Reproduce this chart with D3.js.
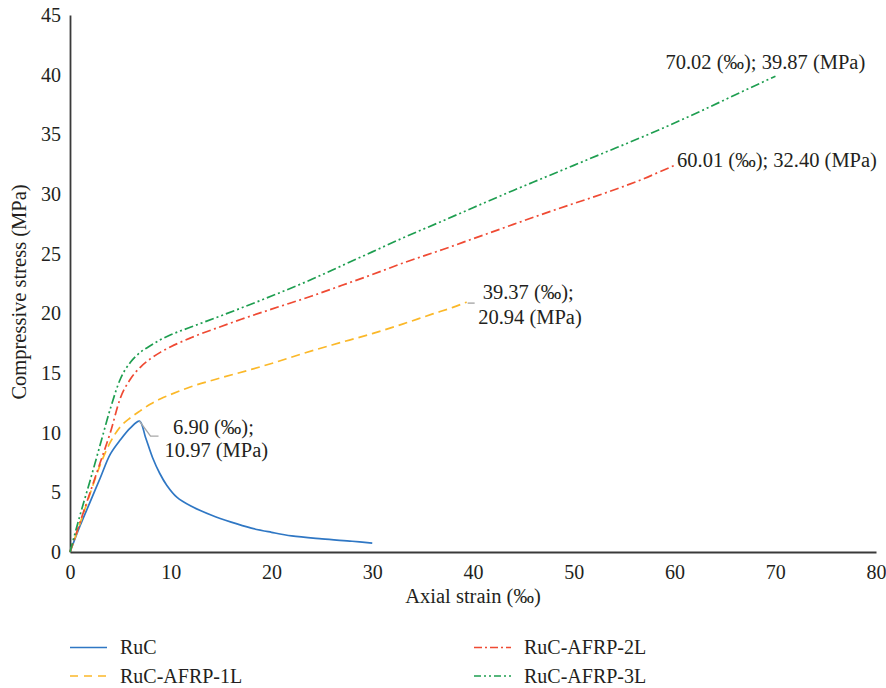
<!DOCTYPE html>
<html>
<head>
<meta charset="utf-8">
<script src="https://cdn.jsdelivr.net/npm/d3@7"></script>
<style>
  html, body { margin: 0; padding: 0; background: #fff; }
  svg { display: block; }
  text { font-family: "Liberation Serif", "DejaVu Serif", serif; fill: #231f20; }
</style>
</head>
<body>
<svg id="chart" width="886" height="688"></svg>
<script>
// ---- Data ----
const xTicks = [0, 10, 20, 30, 40, 50, 60, 70, 80];
const yTicks = [0, 5, 10, 15, 20, 25, 30, 35, 40, 45];

const seriesNames = ["RuC", "RuC-AFRP-1L", "RuC-AFRP-2L", "RuC-AFRP-3L"];

const ruc = [[0,0],[1,2.2],[2,4.2],[3,6.2],[4,8.2],[5,9.4],[6,10.4],[6.9,10.97],[7.5,9.6],[8.2,7.9],[8.9,6.6],[9.6,5.6],[10.6,4.6],[12,3.85],[14,3.1],[16,2.5],[18,2.0],[20,1.65],[22,1.35],[25,1.1],[28,0.9],[30,0.75]];
const afrp1L = [[0,0],[1,2.4],[2,4.9],[3,7.3],[4,9.2],[5,10.5],[6,11.25],[7,11.85],[8,12.4],[9,12.85],[10,13.2],[12,13.85],[15,14.6],[18,15.3],[20,15.8],[23,16.6],[26,17.35],[30,18.3],[33,19.1],[36,19.95],[38,20.5],[39.37,20.94]];
const afrp2L = [[0,0],[1,2.5],[2,5.0],[3,7.5],[4,10.0],[5,12.9],[6,14.5],[7,15.5],[8,16.2],[9,16.75],[10,17.2],[12,17.95],[15,18.9],[17,19.5],[20,20.35],[24,21.45],[27,22.35],[30,23.25],[33,24.2],[37,25.35],[40,26.25],[43,27.15],[46,28.05],[50,29.2],[53,30.05],[55,30.65],[57,31.3],[58.5,31.85],[60.01,32.40]];
const afrp3L = [[0,0],[1,3.1],[2,6.0],[3,9.0],[4,12.0],[5,14.5],[6,15.9],[7,16.75],[8,17.3],[9,17.8],[10,18.2],[12,18.85],[15,19.8],[17,20.45],[20,21.45],[24,22.85],[27,24.0],[30,25.15],[33,26.3],[37,27.75],[40,28.85],[44,30.3],[47,31.35],[50,32.4],[53,33.45],[57,34.85],[60,35.95],[63,37.1],[66,38.3],[70.02,39.87]];

const annotations = [
  { lines: ["6.90 (‰);", "10.97 (MPa)"] },
  { lines: ["39.37 (‰);", "20.94 (MPa)"] },
  { lines: ["60.01 (‰); 32.40 (MPa)"] },
  { lines: ["70.02 (‰); 39.87 (MPa)"] }
];

// ---- Setup ----
const svg = d3.select("#chart");
const x = d3.scaleLinear().domain([0, 80]).range([70, 876]);
const y = d3.scaleLinear().domain([0, 45]).range([552, 15]);
const FS = "20.5px";

const styles = [
  { color: "#2f77c4", dash: null, leg: null },
  { color: "#fbb829", dash: "9,5", leg: "8,6" },
  { color: "#ef4a33", dash: "9,3.5,2,3.5", leg: "8,3,2,3" },
  { color: "#1e9e50", dash: "9,3,2,3,2,3", leg: "7,3,2,3,2,3" }
];
const datasets = [ruc, afrp1L, afrp2L, afrp3L];

// Axes
const yAxis = d3.axisLeft(y).tickValues(yTicks).tickSize(0).tickPadding(9);
const xAxis = d3.axisBottom(x).tickValues(xTicks).tickSize(0).tickPadding(13);

const gy = svg.append("g").attr("transform", `translate(70,0)`).call(yAxis);
const gx = svg.append("g").attr("transform", `translate(0,552)`).call(xAxis);
[gx, gy].forEach(g => {
  g.select(".domain").attr("stroke", "#3a3a3a").attr("stroke-width", 1.8);
  g.selectAll("text").style("font-family", '"Liberation Serif", serif').style("font-size", "20px").attr("fill", "#231f20");
});

// Axis titles
svg.append("text").attr("x", 473).attr("y", 603).attr("text-anchor", "middle")
  .style("font-size", FS).text("Axial strain (‰)");
svg.append("text").attr("transform", "translate(26,292) rotate(-90)").attr("text-anchor", "middle")
  .style("font-size", FS).text("Compressive stress (MPa)");

// Lines
const line = d3.line().x(d => x(d[0])).y(d => y(d[1])).curve(d3.curveMonotoneX);
const lineRuc = d3.line().x(d => x(d[0])).y(d => y(d[1])).curve(d3.curveCatmullRom.alpha(0.5));
datasets.forEach((ds, i) => {
  svg.append("path").datum(ds)
    .attr("d", i === 0 ? lineRuc : line)
    .attr("fill", "none")
    .attr("stroke", styles[i].color)
    .attr("stroke-width", 1.7)
    .attr("stroke-dasharray", styles[i].dash);
});

// Annotation leader lines
const leader = svg.append("g").attr("stroke", "#a8a8a8").attr("stroke-width", 1.4).attr("fill", "none");
const pk = ruc[7];
leader.append("path").attr("d", `M${x(pk[0])},${y(pk[1])} L${x(pk[0]) + 11},${y(pk[1]) + 15} L${x(pk[0]) + 19},${y(pk[1]) + 15}`);
const e1 = afrp1L[afrp1L.length - 1];
leader.append("path").attr("d", `M${x(e1[0]) + 1},${y(e1[1]) + 1} L${x(e1[0]) + 8},${y(e1[1]) + 1}`);

// Annotation texts
function addText(lines, tx, ty, lh) {
  lines.forEach((t, k) => {
    svg.append("text").attr("x", tx[k]).attr("y", ty + k * lh).style("font-size", FS).text(t);
  });
}
addText(annotations[0].lines, [x(pk[0]) + 33.5, x(pk[0]) + 25], y(pk[1]) + 13, 23);
addText(annotations[1].lines, [x(e1[0]) + 16, x(e1[0]) + 11.5], y(e1[1]) - 3, 25);
const e2 = afrp2L[afrp2L.length - 1];
addText(annotations[2].lines, [x(e2[0]) + 2.5], y(e2[1]) + 1.5, 20);
const e3 = afrp3L[afrp3L.length - 1];
addText(annotations[3].lines, [x(e3[0]) - 110], y(e3[1]) - 7, 20);

// Legend
const legendPos = [
  { lx: 70, ly: 647.5 }, { lx: 70, ly: 676 },
  { lx: 474, ly: 647.5 }, { lx: 474, ly: 676 }
];
seriesNames.forEach((name, i) => {
  const p = legendPos[i];
  svg.append("line").attr("x1", p.lx).attr("x2", p.lx + 37).attr("y1", p.ly).attr("y2", p.ly)
    .attr("stroke", styles[i].color).attr("stroke-width", 1.7)
    .attr("stroke-dasharray", styles[i].leg);
  svg.append("text").attr("x", p.lx + 50).attr("y", p.ly + 6.5).style("font-size", "20px").text(name);
});
</script>
</body>
</html>
